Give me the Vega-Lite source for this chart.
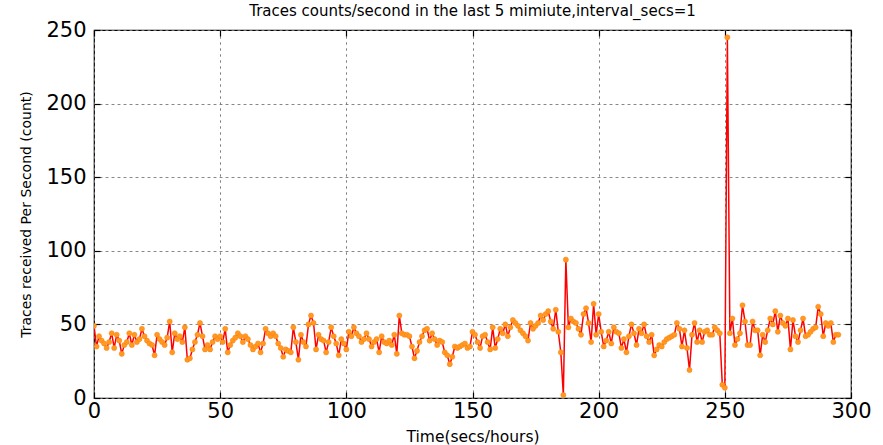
{
  "$schema": "https://vega.github.io/schema/vega-lite/v6.json",
  "autosize": "none",
  "width": 757,
  "height": 368,
  "padding": {"left": 94, "top": 30, "right": 32, "bottom": 47},
  "background": "white",
  "config": {
    "font": "DejaVu Sans",
    "view": {"stroke": "black", "strokeWidth": 1.2},
    "axis": {
      "grid": true,
      "gridColor": "#777777",
      "gridDash": [2, 4],
      "gridWidth": 0.8,
      "domain": false,
      "ticks": true,
      "tickColor": "black",
      "tickSize": -6,
      "tickWidth": 1.2,
      "labelFlush": false,
      "labelFont": "DejaVu Sans",
      "labelFontSize": 21,
      "labelColor": "black",
      "titleFont": "DejaVu Sans",
      "titleFontSize": 14,
      "titleFontWeight": "normal",
      "titleColor": "black"
    }
  },
  "title": {
    "text": "Traces counts/second in the last 5 mimiute,interval_secs=1",
    "font": "DejaVu Sans",
    "fontSize": 15,
    "fontWeight": "normal",
    "color": "black",
    "anchor": "middle",
    "offset": 0
  },
  "data": {"values": [
    {"t":0,"v":49},{"t":1,"v":35},{"t":2,"v":42},{"t":3,"v":39},{"t":4,"v":37},{"t":5,"v":34},{"t":6,"v":38},{"t":7,"v":44},{"t":8,"v":34},{"t":9,"v":43},
    {"t":10,"v":39},{"t":11,"v":30},{"t":12,"v":36},{"t":13,"v":38},{"t":14,"v":44},{"t":15,"v":36},{"t":16,"v":43},{"t":17,"v":38},{"t":18,"v":40},{"t":19,"v":47},
    {"t":20,"v":42},{"t":21,"v":39},{"t":22,"v":37},{"t":23,"v":36},{"t":24,"v":29},{"t":25,"v":43},{"t":26,"v":40},{"t":27,"v":38},{"t":28,"v":36},{"t":29,"v":41},
    {"t":30,"v":52},{"t":31,"v":31},{"t":32,"v":44},{"t":33,"v":40},{"t":34,"v":42},{"t":35,"v":38},{"t":36,"v":48},{"t":37,"v":26},{"t":38,"v":27},{"t":39,"v":33},
    {"t":40,"v":38},{"t":41,"v":43},{"t":42,"v":51},{"t":43,"v":42},{"t":44,"v":33},{"t":45,"v":36},{"t":46,"v":33},{"t":47,"v":38},{"t":48,"v":42},{"t":49,"v":40},
    {"t":50,"v":42},{"t":51,"v":38},{"t":52,"v":47},{"t":53,"v":31},{"t":54,"v":36},{"t":55,"v":39},{"t":56,"v":41},{"t":57,"v":44},{"t":58,"v":42},{"t":59,"v":38},
    {"t":60,"v":42},{"t":61,"v":40},{"t":62,"v":36},{"t":63,"v":33},{"t":64,"v":35},{"t":65,"v":37},{"t":66,"v":31},{"t":67,"v":37},{"t":68,"v":47},{"t":69,"v":44},
    {"t":70,"v":42},{"t":71,"v":44},{"t":72,"v":42},{"t":73,"v":37},{"t":74,"v":34},{"t":75,"v":28},{"t":76,"v":33},{"t":77,"v":32},{"t":78,"v":31},{"t":79,"v":48},
    {"t":80,"v":38},{"t":81,"v":26},{"t":82,"v":43},{"t":83,"v":38},{"t":84,"v":35},{"t":85,"v":50},{"t":86,"v":56},{"t":87,"v":51},{"t":88,"v":33},{"t":89,"v":43},
    {"t":90,"v":40},{"t":91,"v":39},{"t":92,"v":31},{"t":93,"v":38},{"t":94,"v":48},{"t":95,"v":42},{"t":96,"v":37},{"t":97,"v":29},{"t":98,"v":40},{"t":99,"v":37},
    {"t":100,"v":33},{"t":101,"v":45},{"t":102,"v":42},{"t":103,"v":48},{"t":104,"v":44},{"t":105,"v":42},{"t":106,"v":38},{"t":107,"v":40},{"t":108,"v":44},{"t":109,"v":40},
    {"t":110,"v":35},{"t":111,"v":38},{"t":112,"v":40},{"t":113,"v":31},{"t":114,"v":42},{"t":115,"v":38},{"t":116,"v":37},{"t":117,"v":39},{"t":118,"v":36},{"t":119,"v":43},
    {"t":120,"v":30},{"t":121,"v":56},{"t":122,"v":44},{"t":123,"v":43},{"t":124,"v":43},{"t":125,"v":42},{"t":126,"v":35},{"t":127,"v":27},{"t":128,"v":32},{"t":129,"v":38},
    {"t":130,"v":42},{"t":131,"v":46},{"t":132,"v":47},{"t":133,"v":39},{"t":134,"v":44},{"t":135,"v":40},{"t":136,"v":36},{"t":137,"v":39},{"t":138,"v":38},{"t":139,"v":31},
    {"t":140,"v":29},{"t":141,"v":23},{"t":142,"v":28},{"t":143,"v":35},{"t":144,"v":34},{"t":145,"v":35},{"t":146,"v":36},{"t":147,"v":37},{"t":148,"v":34},{"t":149,"v":35},
    {"t":150,"v":45},{"t":151,"v":43},{"t":152,"v":38},{"t":153,"v":34},{"t":154,"v":42},{"t":155,"v":43},{"t":156,"v":38},{"t":157,"v":33},{"t":158,"v":48},{"t":159,"v":34},
    {"t":160,"v":40},{"t":161,"v":47},{"t":162,"v":44},{"t":163,"v":50},{"t":164,"v":42},{"t":165,"v":48},{"t":166,"v":53},{"t":167,"v":51},{"t":168,"v":49},{"t":169,"v":46},
    {"t":170,"v":44},{"t":171,"v":42},{"t":172,"v":39},{"t":173,"v":51},{"t":174,"v":47},{"t":175,"v":49},{"t":176,"v":51},{"t":177,"v":56},{"t":178,"v":53},{"t":179,"v":57},
    {"t":180,"v":59},{"t":181,"v":52},{"t":182,"v":47},{"t":183,"v":60},{"t":184,"v":45},{"t":185,"v":31},{"t":186,"v":2},{"t":187,"v":94},{"t":188,"v":48},{"t":189,"v":54},
    {"t":190,"v":52},{"t":191,"v":51},{"t":192,"v":47},{"t":193,"v":43},{"t":194,"v":57},{"t":195,"v":61},{"t":196,"v":51},{"t":197,"v":38},{"t":198,"v":64},{"t":199,"v":43},
    {"t":200,"v":57},{"t":201,"v":45},{"t":202,"v":35},{"t":203,"v":39},{"t":204,"v":45},{"t":205,"v":37},{"t":206,"v":48},{"t":207,"v":45},{"t":208,"v":44},{"t":209,"v":34},
    {"t":210,"v":40},{"t":211,"v":31},{"t":212,"v":42},{"t":213,"v":50},{"t":214,"v":44},{"t":215,"v":36},{"t":216,"v":47},{"t":217,"v":44},{"t":218,"v":50},{"t":219,"v":42},
    {"t":220,"v":38},{"t":221,"v":43},{"t":222,"v":29},{"t":223,"v":33},{"t":224,"v":36},{"t":225,"v":35},{"t":226,"v":38},{"t":227,"v":40},{"t":228,"v":41},{"t":229,"v":42},
    {"t":230,"v":43},{"t":231,"v":51},{"t":232,"v":47},{"t":233,"v":35},{"t":234,"v":46},{"t":235,"v":34},{"t":236,"v":19},{"t":237,"v":43},{"t":238,"v":51},{"t":239,"v":38},
    {"t":240,"v":46},{"t":241,"v":38},{"t":242,"v":45},{"t":243,"v":46},{"t":244,"v":43},{"t":245,"v":43},{"t":246,"v":48},{"t":247,"v":46},{"t":248,"v":44},{"t":249,"v":9},
    {"t":250,"v":7},{"t":251,"v":245},{"t":252,"v":44},{"t":253,"v":54},{"t":254,"v":36},{"t":255,"v":40},{"t":256,"v":44},{"t":257,"v":63},{"t":258,"v":52},{"t":259,"v":36},
    {"t":260,"v":36},{"t":261,"v":52},{"t":262,"v":46},{"t":263,"v":46},{"t":264,"v":29},{"t":265,"v":43},{"t":266,"v":38},{"t":267,"v":46},{"t":268,"v":54},{"t":269,"v":50},
    {"t":270,"v":59},{"t":271,"v":45},{"t":272,"v":56},{"t":273,"v":51},{"t":274,"v":49},{"t":275,"v":54},{"t":276,"v":33},{"t":277,"v":53},{"t":278,"v":42},{"t":279,"v":38},
    {"t":280,"v":46},{"t":281,"v":54},{"t":282,"v":42},{"t":283,"v":43},{"t":284,"v":45},{"t":285,"v":47},{"t":286,"v":48},{"t":287,"v":62},{"t":288,"v":57},{"t":289,"v":42},
    {"t":290,"v":51},{"t":291,"v":49},{"t":292,"v":51},{"t":293,"v":38},{"t":294,"v":43},{"t":295,"v":43}
  ]},
  "layer": [
    {
      "encoding": {
        "x": {"field": "t", "type": "quantitative", "scale": {"domain": [0, 300], "nice": false, "zero": false},
              "axis": {"orient": "bottom", "values": [0, 50, 100, 150, 200, 250, 300], "title": "Time(secs/hours)", "titleFontSize": 15.5, "labelPadding": 8, "titlePadding": 8, "grid": true}},
        "y": {"field": "v", "type": "quantitative", "scale": {"domain": [0, 250], "nice": false},
              "axis": {"orient": "left", "values": [0, 50, 100, 150, 200, 250], "title": "Traces received Per Second (count)", "labelPadding": 14, "titlePadding": 12, "grid": true}}
      },
      "layer": [
        {"mark": {"type": "line", "color": "#ff0000", "strokeWidth": 1.5, "clip": true}},
        {"mark": {"type": "point", "filled": true, "fill": "#ff9a1f", "stroke": "#ff7a10", "strokeWidth": 0.5, "size": 26, "opacity": 1, "clip": true}}
      ]
    },
    {
      "mark": {"type": "line", "opacity": 0},
      "encoding": {
        "x": {"field": "t", "type": "quantitative", "scale": {"domain": [0, 300], "nice": false, "zero": false},
              "axis": {"orient": "top", "values": [0, 50, 100, 150, 200, 250, 300], "labels": false, "title": null, "grid": true}},
        "y": {"field": "v", "type": "quantitative", "scale": {"domain": [0, 250], "nice": false},
              "axis": {"orient": "right", "values": [0, 50, 100, 150, 200, 250], "labels": false, "title": null, "grid": true}}
      }
    }
  ],
  "resolve": {"axis": {"x": "independent", "y": "independent"}}
}
